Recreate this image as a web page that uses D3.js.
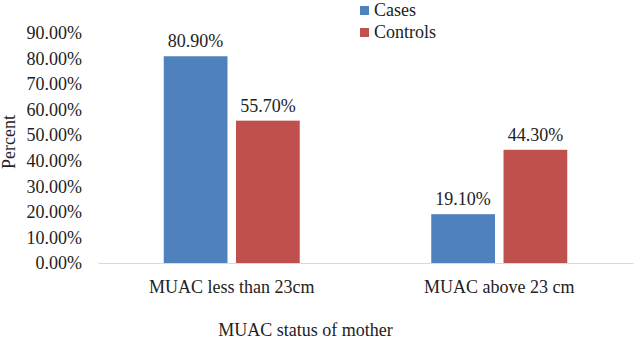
<!DOCTYPE html>
<html>
<head>
<meta charset="utf-8">
<script src="https://cdn.jsdelivr.net/npm/d3@7"></script>
<style>
  body { margin: 0; background: #fff; }
</style>
</head>
<body>
<div id="chart"></div>
<script>
const categories = ["MUAC less than 23cm", "MUAC above 23 cm"];
const seriesNames = ["Cases", "Controls"];
const cases = [80.9, 19.1];
const controls = [55.7, 44.3];
const yTicks = [0, 10, 20, 30, 40, 50, 60, 70, 80, 90];
const colors = ["#4f81bd", "#c0504d"];

const width = 638, height = 339;
const margin = ({top: 33, right: 5, bottom: 76, left: 98});
const serif = "'Liberation Serif', 'Times New Roman', serif";

const x0 = d3.scaleBand()
    .domain(categories)
    .range([margin.left, width - margin.right]);

const x1 = d3.scaleBand()
    .domain(seriesNames)
    .range([0, 136])
    .paddingInner(0.118);

const y = d3.scaleLinear()
    .domain([0, 90])
    .range([height - margin.bottom, margin.top]);

const svg = d3.select("#chart").append("svg")
  .attr("width", width).attr("height", height)
  .attr("font-family", serif).attr("font-size", 18);

// y tick labels (no axis line)
svg.append("g")
  .attr("transform", `translate(${margin.left},0)`)
  .call(d3.axisLeft(y).tickValues(yTicks).tickFormat(d => d.toFixed(2) + "%").tickSize(0).tickPadding(16))
  .attr("font-family", serif).attr("font-size", 18)
  .call(g => g.select(".domain").remove())
  .call(g => g.selectAll("text").attr("fill", "#222"));

// bars
const rows = categories.map((c, i) => ({cat: c, values: [cases[i], controls[i]]}));
const groups = svg.append("g").selectAll("g")
  .data(rows)
  .join("g")
  .attr("transform", d => `translate(${x0(d.cat) + (x0.bandwidth() - 136) / 2},0)`);

groups.selectAll("rect")
  .data(d => d.values.map((v, j) => ({key: seriesNames[j], v: v, j: j})))
  .join("rect")
  .attr("x", d => x1(d.key))
  .attr("width", x1.bandwidth())
  .attr("y", d => y(d.v))
  .attr("height", d => y(0) - y(d.v))
  .attr("fill", d => colors[d.j]);

groups.selectAll("text")
  .data(d => d.values.map((v, j) => ({key: seriesNames[j], v: v})))
  .join("text")
  .attr("x", d => x1(d.key) + x1.bandwidth() / 2)
  .attr("y", d => y(d.v) - 9)
  .attr("text-anchor", "middle")
  .attr("fill", "#222")
  .text(d => d.v.toFixed(2) + "%");

// x axis
svg.append("g")
  .attr("transform", `translate(0,${y(0)})`)
  .call(d3.axisBottom(x0).tickSize(0).tickPadding(17))
  .attr("font-family", serif).attr("font-size", 18)
  .call(g => g.select(".domain").attr("stroke", "#d9d9d9"))
  .call(g => g.selectAll("text").attr("fill", "#222"));

// axis titles
svg.append("text")
  .attr("text-anchor", "middle")
  .attr("x", (margin.left + width - margin.right) / 2 - 60)
  .attr("y", 336)
  .attr("fill", "#222")
  .text("MUAC status of mother");

svg.append("text")
  .attr("text-anchor", "middle")
  .attr("transform", "translate(15,142) rotate(-90)")
  .attr("fill", "#222")
  .text("Percent");

// legend
const legend = svg.append("g").selectAll("g")
  .data(seriesNames)
  .join("g")
  .attr("transform", (d, i) => `translate(360,${6 + i * 22})`);
legend.append("rect")
  .attr("width", 9).attr("height", 9)
  .attr("fill", (d, i) => colors[i]);
legend.append("text")
  .attr("x", 14).attr("y", 10)
  .attr("fill", "#222")
  .text(d => d);
</script>
</body>
</html>
